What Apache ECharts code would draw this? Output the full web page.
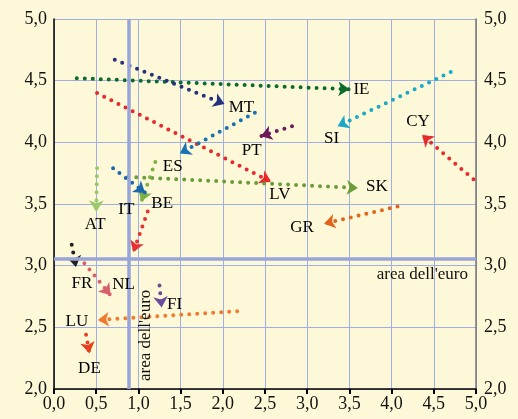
<!DOCTYPE html>
<html>
<head>
<meta charset="utf-8">
<script src="https://cdn.jsdelivr.net/npm/echarts@6/dist/echarts.min.js"></script>
<style>
  html, body { margin: 0; padding: 0; background: #fdf8d8; }
  #chart { width: 518px; height: 419px; }
</style>
</head>
<body>
<div id="chart"></div>
<script>
// country arrows: from (fromX, fromY) to (toX, toY)
const countries = ['IE', 'MT', 'LV', 'ES', 'PT', 'SI', 'CY', 'SK', 'AT', 'IT', 'BE', '', 'FR', 'NL', 'FI', 'LU', 'DE', 'GR'];
const fromX = [0.27, 0.72, 0.51, 2.38, 2.82, 4.70, 4.97, 0.88, 0.51, 1.20, 0.70, 1.11, 0.21, 0.36, 1.25, 2.17, 0.38, 4.07];
const fromY = [4.52, 4.67, 4.40, 4.24, 4.13, 4.57, 3.70, 3.72, 3.79, 3.84, 3.79, 3.44, 3.17, 3.02, 2.84, 2.63, 2.44, 3.48];
const toX = [3.50, 2.02, 2.57, 1.49, 2.45, 3.36, 4.36, 3.60, 0.50, 1.035, 1.08, 0.94, 0.26, 0.67, 1.275, 0.52, 0.42, 3.20];
const toY = [4.43, 4.31, 3.68, 3.91, 4.05, 4.13, 4.06, 3.63, 3.44, 3.52, 3.59, 3.11, 2.99, 2.76, 2.66, 2.56, 2.29, 3.34];

// euro area reference values
const euroX = 0.89;
const euroY = 3.06;

// styles
const colors = ['#0b6b2c', '#26307f', '#e8282a', '#1a72b2', '#6b1b5c', '#1aa9c9', '#e82a2a', '#6b9b3b', '#9bc86a',
  '#7fb244', '#1a68ae', '#e83232', '#222222', '#d8616f', '#6b4b9b', '#f07a2e', '#e8401f', '#e0661f'];
const labelOffset = {
  IE: [12, 0], MT: [17, 3], LV: [9, 13], ES: [-7, 13], PT: [-9, 14], SI: [-6, 12], CY: [-4, -13], SK: [19, -1],
  AT: [-1, 13], IT: [-15, 8], BE: [17, 11], FR: [6, 17], NL: [13, -11], FI: [13, -3], LU: [-21, 2], DE: [0, 15], GR: [-22, 4],
};

const serif = '"Liberation Serif", "DejaVu Serif", serif';
const fmt = (v) => v.toFixed(1).replace('.', ',');

const arrowData = countries.map((c, i) => ({
  coords: [[fromX[i], fromY[i]], [toX[i], toY[i]]],
  lineStyle: { color: colors[i] },
}));

const labelData = countries
  .map((c, i) => ({ c, i }))
  .filter((d) => d.c !== '')
  .map(({ c, i }) => ({ name: c, value: [toX[i], toY[i]] }));

const myChart = echarts.init(document.getElementById('chart'));
const option = {
  backgroundColor: '#fdf8d8',
  animation: false,
  grid: { left: 54, right: 42, top: 19, bottom: 30 },
  xAxis: {
    type: 'value',
    min: 0,
    max: 5,
    interval: 0.5,
    axisLine: { show: true, onZero: false, lineStyle: { color: '#000', width: 1.5 } },
    axisTick: { show: true, length: 5, lineStyle: { color: '#000', width: 2 } },
    axisLabel: { formatter: fmt, color: '#111', fontFamily: serif, fontSize: 18, margin: 6 },
    splitLine: { show: true, lineStyle: { color: '#a0aee0', width: 1 } },
  },
  yAxis: [
    {
      type: 'value',
      min: 2,
      max: 5,
      interval: 0.5,
      axisLine: { show: true, onZero: false, lineStyle: { color: '#000', width: 1.5 } },
      axisTick: { show: false },
      axisLabel: { formatter: fmt, color: '#111', fontFamily: serif, fontSize: 18, margin: 7 },
      splitLine: { show: true, lineStyle: { color: '#a0aee0', width: 1 } },
    },
    {
      type: 'value',
      position: 'right',
      min: 2,
      max: 5,
      interval: 0.5,
      axisLine: { show: true, onZero: false, lineStyle: { color: '#777', width: 1.5 } },
      axisTick: { show: false },
      axisLabel: { formatter: fmt, color: '#111', fontFamily: serif, fontSize: 18, margin: 8 },
      splitLine: { show: false },
    },
  ],
  series: [
    {
      // euro area reference lines
      type: 'line',
      data: [],
      z: 1,
      markLine: {
        silent: true,
        symbol: 'none',
        lineStyle: { color: '#97a5da', width: 3.5, type: 'solid' },
        data: [
          {
            xAxis: euroX,
            label: {
              show: true, formatter: "area dell'euro", position: 'insideStartBottom',
              color: '#111', fontFamily: serif, fontSize: 17, distance: 8,
            },
          },
          {
            yAxis: euroY,
            label: {
              show: true, formatter: "area dell'euro", position: 'insideEndBottom',
              color: '#111', fontFamily: serif, fontSize: 17, distance: 8,
            },
          },
        ],
      },
    },
    {
      type: 'lines',
      coordinateSystem: 'cartesian2d',
      symbol: ['none', 'arrow'],
      symbolSize: [8, 11],
      lineStyle: { width: 4, type: [0, 8], cap: 'round', opacity: 1 },
      data: arrowData,
      z: 3,
    },
    {
      type: 'scatter',
      symbolSize: 0,
      itemStyle: { color: '#fdf8d8', opacity: 1 },
      label: {
        show: true,
        position: 'inside',
        formatter: (p) => p.name,
        color: '#000',
        opacity: 1,
        textBorderWidth: 0,
        fontFamily: serif,
        fontSize: 17,
      },
      labelLayout: (p) => {
        const off = labelOffset[labelData[p.dataIndex].name];
        return { dx: off[0], dy: off[1], hideOverlap: false };
      },
      data: labelData,
      z: 10,
    },
  ],
};
myChart.setOption(option);
</script>
</body>
</html>
